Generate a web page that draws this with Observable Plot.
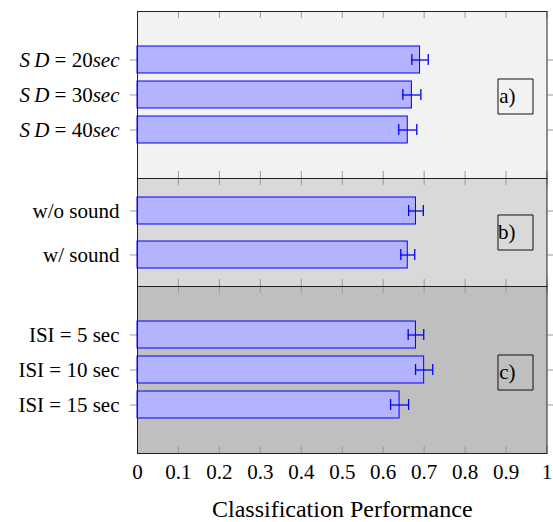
<!DOCTYPE html>
<html><head><meta charset="utf-8">
<script src="https://cdn.jsdelivr.net/npm/d3@7"></script>
<script src="https://cdn.jsdelivr.net/npm/@observablehq/plot@0.6"></script>
<style>
body{margin:0;background:#fff;}
#chart{width:553px;}
#chart svg{display:block;}
#chart svg, #chart svg text, #chart svg tspan {font-family:"Liberation Serif","Times New Roman",serif !important;}
</style></head><body><div id="chart"></div>
<script>
// ---- data ----
const sdLabels = ["SD = 20sec", "SD = 30sec", "SD = 40sec"];
const sdValues = [0.69, 0.67, 0.66];
const sdErrors = [0.020, 0.022, 0.022];

const soundLabels = ["w/o sound", "w/ sound"];
const soundValues = [0.68, 0.66];
const soundErrors = [0.018, 0.017];

const isiLabels = ["ISI = 5 sec", "ISI = 10 sec", "ISI = 15 sec"];
const isiValues = [0.68, 0.70, 0.64];
const isiErrors = [0.019, 0.021, 0.022];

const xTicks = [0, 0.1, 0.2, 0.3, 0.4, 0.5, 0.6, 0.7, 0.8, 0.9, 1];
const panelTags = ["a)", "b)", "c)"];
const xLabel = "Classification Performance";

// ---- layout ----
const W = 553, ML = 137, MR = 6.5;
const FONT = "Liberation Serif";
const FS = 21;
const BLUE = "#0000ff";

function panel({labels, values, errors, bg, tag, height, marginTop, marginBottom, padIn, padOut, tagDy, bottomAxis}) {
  const data = labels.map((label, i) => ({label, value: values[i], err: errors[i]}));
  const innerH = height - marginTop - marginBottom;
  const marks = [
    Plot.frame({fill: bg}),
    Plot.tickX(xTicks, {x: d => d, stroke: "#999", insetBottom: innerH - 7}),
    Plot.tickX(xTicks, {x: d => d, stroke: "#999", insetTop: innerH - 7}),
    Plot.axisY({anchor: "left", tickSize: 7, tickPadding: 11, stroke: "#999", fill: "black", label: null, fontSize: FS, fontFamily: FONT}),
    Plot.axisY({anchor: "right", tickSize: 7, tickFormat: () => "", stroke: "#999", label: null}),
    Plot.barX(data, {x: "value", y: "label", fill: "#b3b3ff", stroke: BLUE, strokeWidth: 1}),
    Plot.ruleY(data, {y: "label", x1: d => d.value - d.err, x2: d => d.value + d.err, stroke: BLUE, strokeWidth: 1.3}),
    Plot.tickX(data, {y: "label", x: d => d.value - d.err, stroke: BLUE, strokeWidth: 1.3, insetTop: 8, insetBottom: 8}),
    Plot.tickX(data, {y: "label", x: d => d.value + d.err, stroke: BLUE, strokeWidth: 1.3, insetTop: 8, insetBottom: 8}),
    Plot.dot([tag], {frameAnchor: "right", dx: -31.5, dy: tagDy, symbol: "square", r: 19.75, stroke: "#111", strokeWidth: 1, fill: "none"}),
    Plot.text([tag], {frameAnchor: "right", dx: -31.5, dy: tagDy, fontSize: FS, fontFamily: FONT, fill: "black", lineAnchor: "middle"}),
    Plot.frame({stroke: "#222", strokeWidth: 1})
  ];
  if (bottomAxis) {
    marks.push(Plot.axisX(xTicks, {anchor: "bottom", tickSize: 0, tickPadding: 11, tickFormat: d => String(d), label: null, fontSize: FS, fontFamily: FONT, fill: "black"}));
    marks.push(Plot.text([xLabel], {frameAnchor: "bottom", dy: 56, lineAnchor: "middle", fontSize: 24, fontFamily: FONT, fill: "black"}));
  }
  return Plot.plot({
    width: W, height, marginLeft: ML, marginRight: MR, marginTop, marginBottom,
    style: {fontFamily: FONT, fontSize: FS + "px", background: "transparent", overflow: "visible", color: "black"},
    x: {domain: [0, 1], axis: null},
    y: {type: "band", domain: labels, paddingInner: padIn, paddingOuter: padOut, label: null, axis: null},
    marks
  });
}

const svgA = panel({labels: sdLabels, values: sdValues, errors: sdErrors, bg: "#f2f2f2", tag: panelTags[0],
  height: 178, marginTop: 11, marginBottom: 0, padIn: 0.229, padOut: 1.0, tagDy: 1.5});
const svgB = panel({labels: soundLabels, values: soundValues, errors: soundErrors, bg: "#d9d9d9", tag: panelTags[1],
  height: 108, marginTop: 0, marginBottom: 0, padIn: 0.396, padOut: 0.406, tagDy: 0});
const svgC = panel({labels: isiLabels, values: isiValues, errors: isiErrors, bg: "#bfbfbf", tag: panelTags[2],
  height: 236, marginTop: 0, marginBottom: 69, padIn: 0.229, padOut: 1.0, tagDy: 2.5, bottomAxis: true});

// italic math styling for the SD labels
d3.select(svgA).selectAll('g[aria-label="y-axis tick label"] text').each(function () {
  const m = /^SD = (\d+)sec$/.exec(this.textContent);
  if (!m) return;
  const t = d3.select(this);
  t.text("");
  t.append("tspan").attr("font-style", "italic").text("S\u2009D");
  t.append("tspan").text(" = " + m[1]);
  t.append("tspan").attr("font-style", "italic").text("sec");
});

const chart = document.getElementById("chart");
chart.append(svgA, svgB, svgC);
</script>
</body></html>
